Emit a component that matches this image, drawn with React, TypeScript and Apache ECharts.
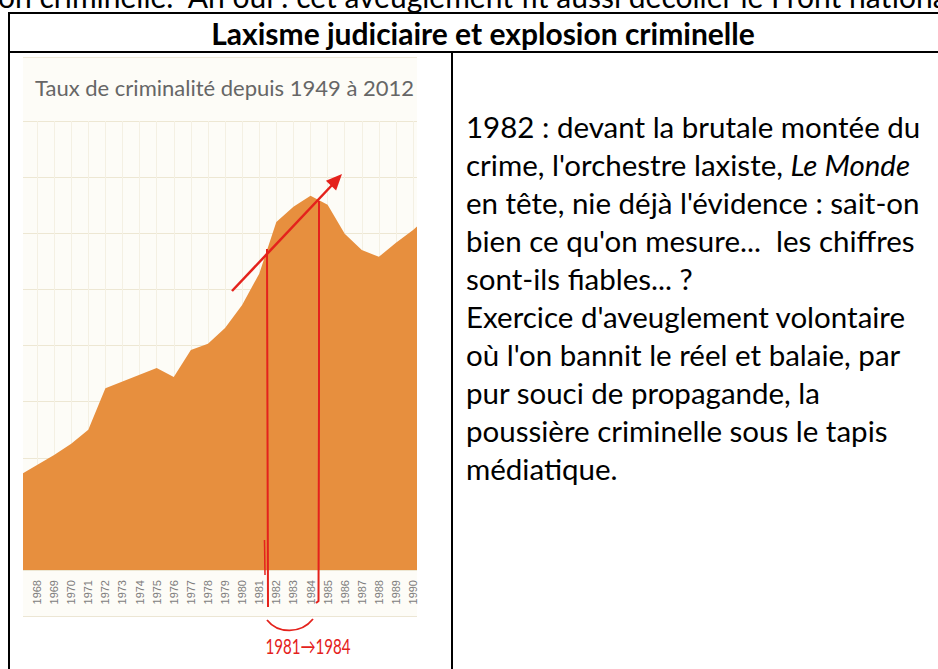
import React, { useEffect, useRef } from 'react';
import * as echarts from 'echarts';

// ---- data ----
const years = [1967, 1968, 1969, 1970, 1971, 1972, 1973, 1974, 1975, 1976, 1977, 1978, 1979, 1980, 1981, 1982, 1983, 1984, 1985, 1986, 1987, 1988, 1989, 1990, 1991];
const crimeRate = [16.9, 18.7, 20.5, 22.5, 25.0, 32.4, 33.6, 34.8, 36.0, 34.4, 39.2, 40.3, 43.1, 47.2, 52.8, 62.0, 64.7, 66.7, 65.1, 59.9, 57.0, 55.8, 58.3, 60.6, 63.3];
const yearLabels = [1968, 1969, 1970, 1971, 1972, 1973, 1974, 1975, 1976, 1977, 1978, 1979, 1980, 1981, 1982, 1983, 1984, 1985, 1986, 1987, 1988, 1989, 1990];

const topLine = "on criminelle.  Ah oui : cet aveuglement fit aussi décoller le Front national";
const tableTitle = 'Laxisme judiciaire et explosion criminelle';
const chartTitle = 'Taux de criminalité depuis 1949 à 2012';
const bodyLines = [
  '1982 : devant la brutale montée du',
  "crime, l'orchestre laxiste, {i|Le Monde}",
  "en tête, nie déjà l'évidence : sait-on",
  "bien ce qu'on mesure...  les chiffres",
  'sont-ils fiables... ?',
  "Exercice d'aveuglement volontaire",
  "où l'on bannit le réel et balaie, par",
  'pur souci de propagande, la',
  'poussière criminelle sous le tapis',
  'médiatique.',
];
const handNote = '1981→1984';

const FONT = 'Lato, "Open Sans", sans-serif';
const RED = '#e4221c';

export default function App() {
  const ref = useRef<HTMLDivElement>(null);
  useEffect(() => {
    if (!ref.current) return;
    const chart = echarts.init(ref.current, null, { renderer: 'svg' });
    const bodySize = 29.5;
    const bodyGraphics = bodyLines.map((t, i) => ({
      type: 'text',
      x: 466,
      y: 126.5 + i * 38,
      z: 10,
      style: {
        text: t,
        fill: '#000',
        font: `${bodySize}px ${FONT}`,
        textAlign: 'left',
        textVerticalAlign: 'middle',
        rich: { i: { fontStyle: 'italic', fontSize: bodySize, fontFamily: FONT, fill: '#000' } },
      },
    }));

    const option: any = {
      animation: false,
      backgroundColor: '#ffffff',
      grid: { left: 23, right: 521, top: 121, bottom: 99, containLabel: false },
      xAxis: {
        type: 'value',
        min: 1967.18,
        max: 1990.23,
        axisLine: { show: false },
        axisTick: { show: false, customValues: yearLabels },
        axisLabel: {
          customValues: yearLabels,
          rotate: 90,
          fontSize: 11,
          color: '#7d7d7d',
          margin: 10,
          fontFamily: '"Liberation Sans", Arial, sans-serif',
          formatter: (v: number) => String(v),
        },
        splitLine: { show: true, lineStyle: { color: '#f4f0e3', width: 1 } },
      },
      yAxis: {
        type: 'value',
        min: 0,
        max: 80,
        interval: 10,
        axisLine: { show: false },
        axisTick: { show: false },
        axisLabel: { show: false },
        splitLine: { show: true, lineStyle: { color: '#ede7d3', width: 1 } },
      },
      series: [
        {
          type: 'line',
          data: years.map((y, i) => [y, crimeRate[i]]),
          symbol: 'none',
          silent: true,
          lineStyle: { width: 0 },
          areaStyle: { color: '#e78f3e', opacity: 1 },
          clip: true,
          z: 3,
        },
      ],
      graphic: [
        // chart picture background
        { type: 'rect', z: -10, shape: { x: 23, y: 57, width: 394, height: 560 }, style: { fill: '#fdfcf7' } },
        { type: 'line', z: -9, shape: { x1: 23, y1: 57.5, x2: 417, y2: 57.5 }, style: { stroke: '#efe9d8', lineWidth: 1 } },
        { type: 'line', z: -9, shape: { x1: 23, y1: 616.5, x2: 417, y2: 616.5 }, style: { stroke: '#ece6d4', lineWidth: 1 } },
        {
          type: 'text', x: 35, y: 87, z: 10,
          style: { text: chartTitle, fill: '#666666', font: `22px ${FONT}`, textAlign: 'left', textVerticalAlign: 'middle' },
        },
        // page text above table
        {
          type: 'text', x: -2, y: -4, z: 10,
          style: { text: topLine, fill: '#000', font: `30px ${FONT}`, textAlign: 'left', textVerticalAlign: 'middle' },
        },
        // table borders
        { type: 'line', z: 10, shape: { x1: 8, y1: 13, x2: 940, y2: 13 }, style: { stroke: '#000', lineWidth: 2 } },
        { type: 'line', z: 10, shape: { x1: 8, y1: 52, x2: 940, y2: 52 }, style: { stroke: '#000', lineWidth: 2 } },
        { type: 'line', z: 10, shape: { x1: 9, y1: 12, x2: 9, y2: 670 }, style: { stroke: '#000', lineWidth: 2 } },
        { type: 'line', z: 10, shape: { x1: 452, y1: 52, x2: 452, y2: 670 }, style: { stroke: '#000', lineWidth: 2 } },
        {
          type: 'text', x: 483, y: 33, z: 10,
          style: { text: tableTitle, fill: '#000', font: `bold 30px ${FONT}`, textAlign: 'center', textVerticalAlign: 'middle' },
        },
        ...bodyGraphics,
        // hand-drawn red annotations
        { type: 'line', z: 20, shape: { x1: 232, y1: 291, x2: 334, y2: 183 }, style: { stroke: RED, lineWidth: 2.5 } },
        { type: 'polygon', z: 20, shape: { points: [[342, 174], [325.9, 180.8], [336.1, 190.4]] }, style: { fill: RED } },
        { type: 'polyline', z: 20, shape: { points: [[267, 249], [267.5, 430], [268, 607]] }, style: { stroke: RED, lineWidth: 2 } },
        { type: 'polyline', z: 20, shape: { points: [[264.5, 540], [265, 575]] }, style: { stroke: RED, lineWidth: 1.5 } },
        { type: 'polyline', z: 20, shape: { points: [[319, 201], [319, 400], [318.5, 601], [316, 603]] }, style: { stroke: RED, lineWidth: 2 } },
        { type: 'bezierCurve', z: 20, shape: { x1: 267, y1: 620, cpx1: 278, cpy1: 634, cpx2: 301, cpy2: 634, x2: 313, y2: 619 }, style: { stroke: RED, lineWidth: 1.8, fill: 'none' } },
        {
          type: 'text', x: 308, y: 646, z: 20, scaleX: 0.72,
          style: { text: handNote, fill: RED, font: `21px ${FONT}`, textAlign: 'center', textVerticalAlign: 'middle' },
        },
      ],
    };
    chart.setOption(option);
    return () => chart.dispose();
  }, []);
  return <div ref={ref} style={{ position: 'absolute', left: 0, top: 0, width: 938, height: 669 }} />;
}
